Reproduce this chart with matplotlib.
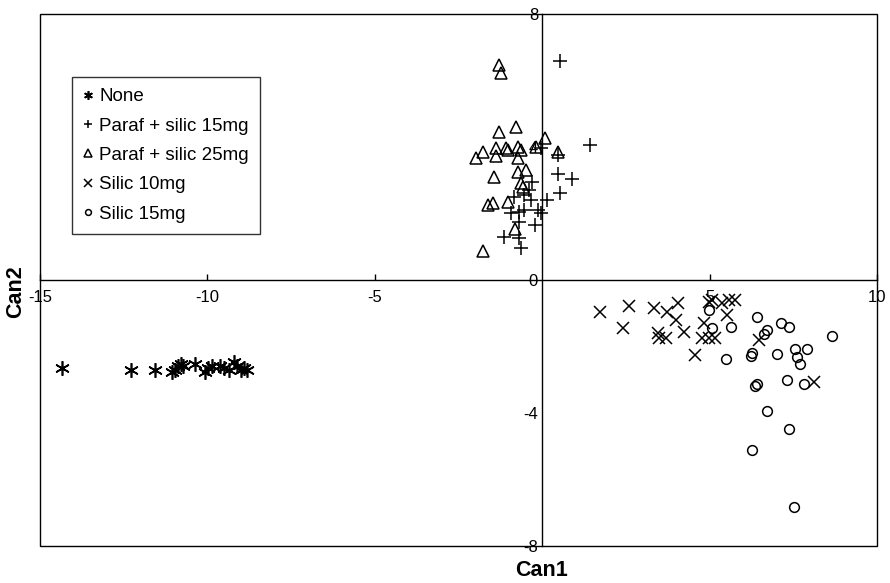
import matplotlib
matplotlib.use("Agg")
import matplotlib.pyplot as plt
from matplotlib.patches import Rectangle

plt.rcParams['font.family'] = ['Liberation Sans', 'DejaVu Sans']
plt.rcParams['axes.unicode_minus'] = False

# ---- data ----
none_x = [-14.34, -12.28, -11.56, -11.05, -10.96, -10.87, -10.78, -10.72, -10.36, -10.06,
          -9.97, -9.85, -9.61, -9.49, -9.34, -9.22, -9.13, -9.01, -8.92, -8.83]
none_y = [-2.65, -2.71, -2.71, -2.77, -2.71, -2.59, -2.53, -2.59, -2.53, -2.77,
          -2.65, -2.59, -2.59, -2.65, -2.71, -2.47, -2.59, -2.71, -2.65, -2.71]

p15_x = [0.54, 1.44, 0.48, 0.48, 0.90, 0.54, 0.15, -0.30, -0.39, -0.33, -0.54, -0.84,
         -0.93, -0.69, -0.54, -0.12, -0.03, -0.69, -0.21, -1.14, -0.69, -0.63, -0.03]
p15_y = [6.59, 4.06, 3.76, 3.19, 3.04, 2.62, 2.41, 2.95, 2.71, 2.41, 2.56, 2.50,
         2.02, 2.05, 2.11, 2.11, 2.02, 1.74, 1.65, 1.29, 1.26, 0.96, 3.97]

p25_x = [-1.29, -1.23, -0.78, -1.29, 0.09, -1.77, -1.98, -1.38, -1.38, -1.08, -1.02, -0.72,
         -0.63, -0.72, -0.18, 0.48, -1.44, -0.72, -0.48, -0.63, -0.57, -1.47, -1.62, -1.02,
         -0.81, -1.77]
p25_y = [6.47, 6.23, 4.60, 4.45, 4.27, 3.85, 3.67, 3.97, 3.73, 3.97, 3.91, 4.00,
         3.91, 3.67, 4.00, 3.85, 3.10, 3.25, 3.31, 2.92, 2.80, 2.32, 2.26, 2.35,
         1.53, 0.87]

s10_x = [1.74, 2.60, 3.35, 3.74, 4.07, 4.01, 2.40, 3.47, 3.50, 3.71, 4.25, 4.55,
         4.82, 4.76, 4.97, 5.15, 4.97, 5.06, 5.36, 5.57, 5.75, 5.51, 6.47, 8.11]
s10_y = [-0.96, -0.78, -0.84, -0.96, -0.69, -1.20, -1.44, -1.59, -1.74, -1.74, -1.56, -2.26,
         -1.29, -1.74, -1.74, -1.74, -0.66, -0.60, -0.69, -0.60, -0.60, -1.05, -1.80, -3.07]

s15_x = [4.97, 5.06, 5.63, 6.41, 7.13, 7.37, 6.62, 6.71, 8.65, 6.26, 6.23, 5.48,
         7.01, 7.54, 7.90, 7.60, 7.69, 6.35, 6.41, 7.31, 7.81, 6.71, 7.37, 6.26, 7.51]
s15_y = [-0.90, -1.44, -1.41, -1.11, -1.29, -1.41, -1.62, -1.50, -1.68, -2.20, -2.29, -2.38,
         -2.23, -2.08, -2.08, -2.32, -2.53, -3.19, -3.13, -3.01, -3.13, -3.94, -4.48, -5.11, -6.83]

labels = ["None", "Paraf + silic 15mg", "Paraf + silic 25mg", "Silic 10mg", "Silic 15mg"]
x_ticks = [-15, -10, -5, 5, 10]
y_ticks = [-8, -4, 0, 4, 8]

fig = plt.figure(figsize=(8.9, 5.83), dpi=100)
ax = fig.add_axes([40/890, 1-546/583, 837/890, 532/583])
ax.set_xlim(-15, 10)
ax.set_ylim(-8, 8)

k = dict(color='black', linestyle='none')
ax.plot(none_x, none_y, marker=(6, 2, 0), markersize=10.5, markeredgewidth=1.2, label=labels[0], **k)
ax.plot(p15_x, p15_y, marker='+', markersize=10, markeredgewidth=1.1, label=labels[1], **k)
ax.plot(p25_x, p25_y, marker='^', markersize=9, markerfacecolor='none', markeredgewidth=1.1, label=labels[2], **k)
ax.plot(s10_x, s10_y, marker='x', markersize=9, markeredgewidth=1.1, label=labels[3], **k)
ax.plot(s15_x, s15_y, marker='o', markersize=7, markerfacecolor='none', markeredgewidth=1.1, label=labels[4], **k)

# spines through origin
for s in ['top', 'right']:
    ax.spines[s].set_visible(False)
ax.spines['left'].set_position(('data', 0))
ax.spines['bottom'].set_position(('data', 0))
ax.spines['left'].set_linewidth(1.0)
ax.spines['bottom'].set_linewidth(1.0)
ax.add_patch(Rectangle((0, 0), 1, 1, transform=ax.transAxes, fill=False,
                       edgecolor='black', linewidth=1.0, clip_on=False, zorder=5))

ax.set_xticks(x_ticks)
ax.set_yticks(y_ticks)
ax.tick_params(axis='x', direction='in', length=4, width=1, labelsize=12, pad=7)
ax.tick_params(axis='y', length=0, labelsize=12, pad=3)

fig.text(541/890, 1-571/583, "Can1", ha='center', va='center', fontsize=15.5, fontweight='bold')
fig.text(16/890, 1-292/583, "Can2", ha='center', va='center', fontsize=15.5, fontweight='bold', rotation=90)

leg = ax.legend(loc='upper left', bbox_to_anchor=((72-40)/837, (546-77)/532), borderaxespad=0,
                fontsize=13.5, frameon=True, fancybox=False, edgecolor='black', handlelength=0.5,
                handletextpad=0.35, markerscale=0.6, labelspacing=0.65, borderpad=0.6)
leg.get_frame().set_linewidth(1.0)

fig.savefig("out.png", dpi=100)
